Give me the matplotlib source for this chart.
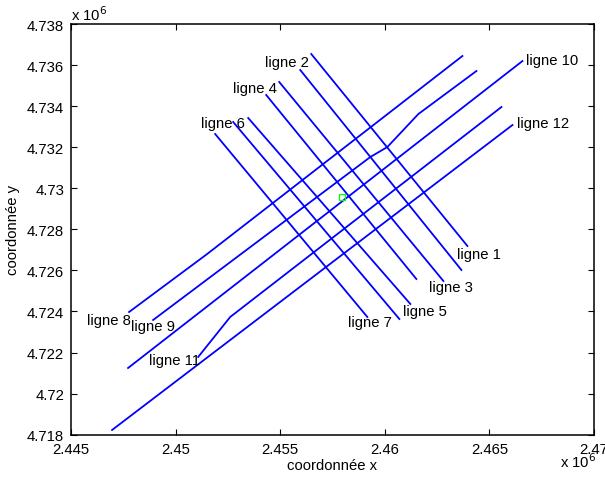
import matplotlib
matplotlib.use("Agg")
import matplotlib.pyplot as plt

plt.rcParams['font.family'] = ['Liberation Sans', 'DejaVu Sans']

# ---- data (survey lines, coordinates in metres) ----
line1_x = [2456483, 2463947]
line1_y = [4736539, 4727189]
line2_x = [2455957, 2463660]
line2_y = [4735760, 4726021]
line3_x = [2454952, 2462799]
line3_y = [4735176, 4725485]
line4_x = [2454330, 2461507]
line4_y = [4734543, 4725582]
line5_x = [2453469, 2461220]
line5_y = [4733422, 4724365]
line6_x = [2452751, 2460694]
line6_y = [4733228, 4723634]
line7_x = [2451890, 2459163]
line7_y = [4732643, 4723732]
line8_x = [2447775, 2451507, 2463708]
line8_y = [4723975, 4726800, 4736442]
line9_x = [2448924, 2459306, 2460120, 2461603, 2464378]
line9_y = [4723586, 4731523, 4732010, 4733617, 4735711]
line10_x = [2447727, 2466579]
line10_y = [4721248, 4736198]
line11_x = [2451077, 2452608, 2465574]
line11_y = [4721784, 4723732, 4733958]
line12_x = [2446962, 2466101]
line12_y = [4718229, 4733082]

point_x = [2457967]
point_y = [4729575]

label_texts = ['ligne 1', 'ligne 2', 'ligne 3', 'ligne 4', 'ligne 5', 'ligne 6',
               'ligne 7', 'ligne 8', 'ligne 9', 'ligne 10', 'ligne 11', 'ligne 12']
label_x = [2463469, 2454282, 2462129, 2452751, 2460885, 2451220,
           2458254, 2445766, 2447871, 2466770, 2448732, 2466340]
label_y = [4726800, 4736150, 4725193, 4734883, 4724024, 4733179,
           4723488, 4723586, 4723293, 4736247, 4721638, 4733179]

xticks = [2445000, 2450000, 2455000, 2460000, 2465000, 2470000]
xtick_labels = ['2.445', '2.45', '2.455', '2.46', '2.465', '2.47']
yticks = [4718000, 4720000, 4722000, 4724000, 4726000, 4728000, 4730000,
          4732000, 4734000, 4736000, 4738000]
ytick_labels = ['4.718', '4.72', '4.722', '4.724', '4.726', '4.728', '4.73',
                '4.732', '4.734', '4.736', '4.738']

lines = [(line1_x, line1_y), (line2_x, line2_y), (line3_x, line3_y),
         (line4_x, line4_y), (line5_x, line5_y), (line6_x, line6_y),
         (line7_x, line7_y), (line8_x, line8_y), (line9_x, line9_y),
         (line10_x, line10_y), (line11_x, line11_y), (line12_x, line12_y)]

FS = 10.7
fig = plt.figure(figsize=(6.05, 4.81), dpi=100)
ax = fig.add_axes([0.1174, 0.0942, 0.8645, 0.8538])

for xs, ys in lines:
    ax.plot(xs, ys, color='#0000ff', linewidth=1.3)

ax.plot(point_x, point_y, linestyle='none', marker='s', markersize=5,
        markerfacecolor='none', markeredgecolor='#00ff00', markeredgewidth=0.9)

for t, x, y in zip(label_texts, label_x, label_y):
    ax.text(x, y, t, fontsize=FS, ha='left', va='center', color='black')

ax.set_xlim(2445000, 2470000)
ax.set_ylim(4718000, 4738000)
ax.set_xticks(xticks)
ax.set_xticklabels(xtick_labels)
ax.set_yticks(yticks)
ax.set_yticklabels(ytick_labels)
ax.tick_params(direction='in', length=4, width=0.8, top=True, right=True,
               labelsize=FS, pad=5)
for s in ax.spines.values():
    s.set_linewidth(1.1)

ax.set_xlabel('coordonnée x', fontsize=FS, labelpad=2)
ax.set_ylabel('coordonnée y', fontsize=FS, labelpad=5)

fig.text(71 / 605, 1 - 15 / 481, r'x 10$^{6}$', fontsize=FS, ha='left', va='center')
fig.text(560 / 605, 1 - 462 / 481, r'x 10$^{6}$', fontsize=FS, ha='left', va='center')

fig.savefig('out.png', dpi=100)
